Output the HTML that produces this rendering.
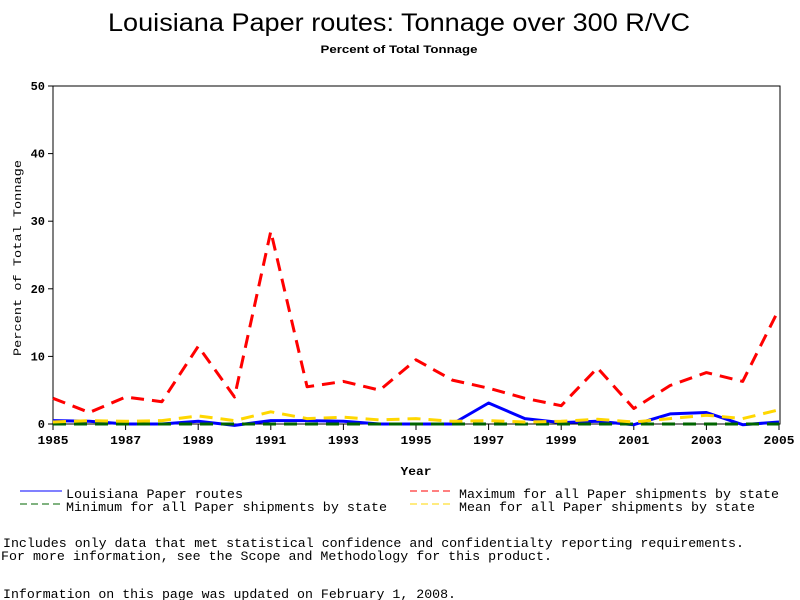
<!DOCTYPE html>
<html><head><meta charset="utf-8"><style>
html,body{margin:0;padding:0;background:#fff;}
svg{display:block;}
text{font-family:"Liberation Sans",sans-serif;fill:#000;}
.m{font-family:"Liberation Mono",monospace;}
</style></head><body>
<svg id="chart" width="800" height="600" viewBox="0 0 800 600">
<text x="399" y="31" font-size="25" text-anchor="middle" textLength="582" lengthAdjust="spacingAndGlyphs">Louisiana Paper routes: Tonnage over 300 R/VC</text>
<text x="399" y="53" font-size="11" font-weight="bold" text-anchor="middle" textLength="157" lengthAdjust="spacingAndGlyphs">Percent of Total Tonnage</text>
<rect x="53" y="86" width="727" height="338" fill="none" stroke="#000" stroke-width="1"/>
<g id="yaxis"></g>
<g id="xaxis"></g>
<text x="21" y="258" font-size="11" class="m" text-anchor="middle" transform="rotate(-90 21 258)" textLength="196" lengthAdjust="spacingAndGlyphs">Percent of Total Tonnage</text>
<text x="416" y="475" font-size="12" font-weight="bold" class="m" text-anchor="middle" textLength="31" lengthAdjust="spacingAndGlyphs">Year</text>
<g id="series"></g>
<g>
<g><line x1="20" y1="491" x2="62" y2="491" stroke="#0000ff" stroke-width="1"/><text x="66" y="498" font-size="13" class="m" textLength="177" lengthAdjust="spacingAndGlyphs">Louisiana Paper routes</text></g>
<g><line x1="410" y1="491" x2="452" y2="491" stroke="#ff0000" stroke-width="1" stroke-dasharray="7,4"/><text x="459" y="498" font-size="13" class="m" textLength="320" lengthAdjust="spacingAndGlyphs">Maximum for all Paper shipments by state</text></g>
<g><line x1="20" y1="504" x2="62" y2="504" stroke="#006400" stroke-width="1" stroke-dasharray="7,4"/><text x="66" y="511" font-size="13" class="m" textLength="321" lengthAdjust="spacingAndGlyphs">Minimum for all Paper shipments by state</text></g>
<g><line x1="410" y1="504" x2="452" y2="504" stroke="#ffd700" stroke-width="1" stroke-dasharray="7,4"/><text x="459" y="511" font-size="13" class="m" textLength="296" lengthAdjust="spacingAndGlyphs">Mean for all Paper shipments by state</text></g>
</g>
<text x="3" y="547" font-size="13" class="m" textLength="741" lengthAdjust="spacingAndGlyphs">Includes only data that met statistical confidence and confidentialty reporting requirements.</text>
<text x="1" y="560" font-size="13" class="m" textLength="551" lengthAdjust="spacingAndGlyphs">For more information, see the Scope and Methodology for this product.</text>
<text x="3" y="598" font-size="13" class="m" textLength="453" lengthAdjust="spacingAndGlyphs">Information on this page was updated on February 1, 2008.</text>
</svg>
<script>
const years = [1985,1986,1987,1988,1989,1990,1991,1992,1993,1994,1995,1996,1997,1998,1999,2000,2001,2002,2003,2004,2005];
const maxValues = [3.8,1.7,4.0,3.3,11.5,4.0,28.5,5.5,6.3,5.0,9.5,6.5,5.3,3.8,2.7,8.3,2.3,5.7,7.6,6.3,17.0];
const louisianaValues = [0.5,0.4,0.0,0.0,0.4,-0.2,0.5,0.5,0.4,0.0,0.0,0.0,3.1,0.8,0.2,0.4,-0.1,1.5,1.7,-0.1,0.3];
const meanValues = [0.3,0.5,0.4,0.5,1.2,0.5,1.8,0.8,1.0,0.6,0.8,0.4,0.5,0.3,0.4,0.7,0.3,0.8,1.3,0.8,2.1];
const minValues = [0,0,0,0,0,0,0,0,0,0,0,0,0,0,0,0,0,0,0,0,0];
const yTicks = [0,10,20,30,40,50];
const xTickLabels = [1985,1987,1989,1991,1993,1995,1997,1999,2001,2003,2005];

const NS = "http://www.w3.org/2000/svg";
const X0 = 53, X1 = 779, Y0 = 424, Y1 = 86;
function xs(v){ return X0 + (v - 1985) / 20 * (X1 - X0); }
function ys(v){ return Y0 - v / 50 * (Y0 - Y1); }

const yaxis = document.getElementById('yaxis');
yTicks.forEach(t => {
  const l = document.createElementNS(NS,'line');
  l.setAttribute('x1', X0-5); l.setAttribute('x2', X0); l.setAttribute('y1', ys(t)); l.setAttribute('y2', ys(t));
  l.setAttribute('stroke','#000');
  
  
  yaxis.appendChild(l);
  const tx = document.createElementNS(NS,'text');
  tx.setAttribute('x', X0-8); tx.setAttribute('y', ys(t)+4);
  tx.setAttribute('font-size','12'); tx.setAttribute('font-weight','bold'); tx.setAttribute('text-anchor','end');
  tx.setAttribute('class','m');
  tx.textContent = t;
  
  
  yaxis.appendChild(tx);
});
const xaxis = document.getElementById('xaxis');
xTickLabels.forEach(t => {
  const l = document.createElementNS(NS,'line');
  l.setAttribute('x1', xs(t)); l.setAttribute('x2', xs(t)); l.setAttribute('y1', Y0); l.setAttribute('y2', Y0+6);
  l.setAttribute('stroke','#000');
  
  
  xaxis.appendChild(l);
  const tx = document.createElementNS(NS,'text');
  tx.setAttribute('x', xs(t)); tx.setAttribute('y', Y0+20);
  tx.setAttribute('font-size','12'); tx.setAttribute('font-weight','bold'); tx.setAttribute('text-anchor','middle');
  tx.setAttribute('class','m');
  tx.setAttribute('textLength','31'); tx.setAttribute('lengthAdjust','spacingAndGlyphs');
  tx.textContent = t;
  
  
  xaxis.appendChild(tx);
});

const series = document.getElementById('series');
function drawLine(vals, color, dash, name){
  const p = document.createElementNS(NS,'polyline');
  p.setAttribute('points', vals.map((v,i) => xs(years[i]).toFixed(1)+','+ys(v).toFixed(1)).join(' '));
  p.setAttribute('fill','none'); p.setAttribute('stroke',color); p.setAttribute('stroke-width','3');
  p.setAttribute('stroke-linejoin','round');
  if (dash) p.setAttribute('stroke-dasharray', dash);
  
  
  series.appendChild(p);
}
drawLine(louisianaValues, '#0000ff', null, 'louisiana-line');
drawLine(minValues, '#006400', '13,8', 'minimum-line');
drawLine(meanValues, '#ffd700', '13,8', 'mean-line');
drawLine(maxValues, '#ff0000', '13,8', 'maximum-line');
</script>
</body></html>
